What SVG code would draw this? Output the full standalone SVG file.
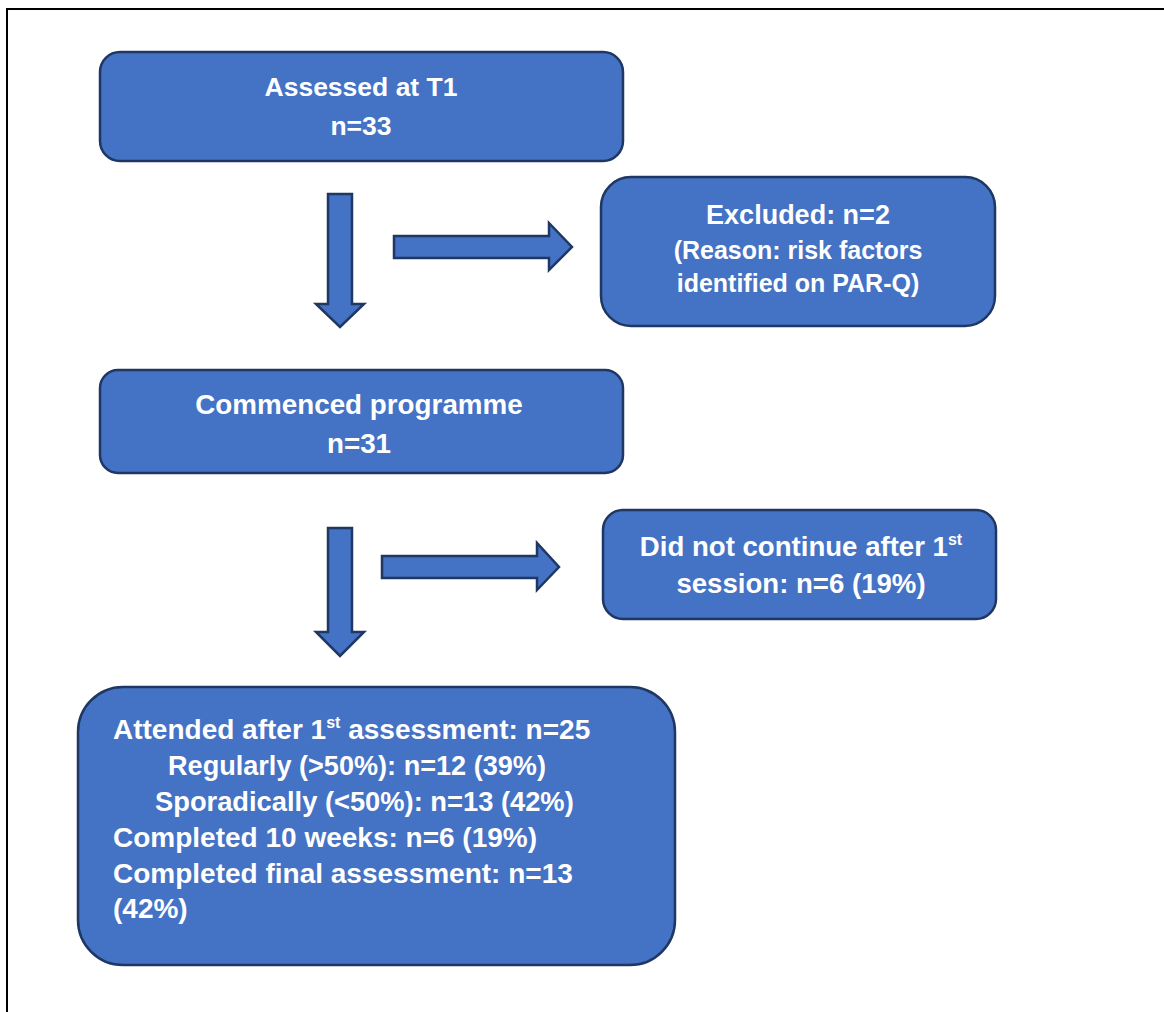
<svg xmlns="http://www.w3.org/2000/svg" width="1164" height="1012" viewBox="0 0 1164 1012">
<style>
.box{fill:#4472c4;stroke:#1f3763;stroke-width:2.5}
.arr{fill:#4472c4;stroke:#1f3763;stroke-width:2.5;stroke-linejoin:miter}
.t{font-family:"Liberation Sans",Arial,sans-serif;font-weight:bold;fill:#ffffff}
.c{text-anchor:middle}
</style>
<rect x="0" y="0" width="1164" height="1012" fill="#ffffff"/>
<path d="M7,1012 V9 H1164" fill="none" stroke="#000000" stroke-width="2"/>
<g id="connectors">
<polygon class="arr" points="328,194 352,194 352,304 364,304 340,327 316,304 328,304"/>
<polygon class="arr" points="394,236 549,236 549,223 572,247 549,270 549,258 394,258"/>
<polygon class="arr" points="328,528 352,528 352,632 364,632 340,656 316,632 328,632"/>
<polygon class="arr" points="382,556 537,556 537,543 559,567 537,590 537,578 382,578"/>
</g>
<g id="assessed">
<rect class="box" x="100" y="52" width="523" height="109" rx="20"/>
<text class="t c" x="361" y="96" font-size="26.5">Assessed at T1</text>
<text class="t c" x="361" y="135" font-size="26.5">n=33</text>
</g>
<g id="excluded">
<rect class="box" x="601" y="177" width="394" height="149" rx="30"/>
<text class="t c" x="798" y="224" font-size="27">Excluded: n=2</text>
<text class="t c" x="798" y="259" font-size="25">(Reason: risk factors</text>
<text class="t c" x="798" y="292" font-size="25">identified on PAR-Q)</text>
</g>
<g id="commenced">
<rect class="box" x="100" y="370" width="523" height="103" rx="18"/>
<text class="t c" x="359" y="414" font-size="27.8">Commenced programme</text>
<text class="t c" x="359" y="453" font-size="27.8">n=31</text>
</g>
<g id="discontinued">
<rect class="box" x="603" y="510" width="393" height="109" rx="20"/>
<text class="t c" x="801" y="556" font-size="27.6">Did not continue after 1<tspan font-size="16" dy="-11">st</tspan></text>
<text class="t c" x="801" y="593" font-size="27.6">session: n=6 (19%)</text>
</g>
<g id="attended">
<rect class="box" x="78" y="687" width="597" height="278" rx="45"/>
<text class="t" x="113" y="739" font-size="28">Attended after 1<tspan font-size="16" dy="-11">st</tspan><tspan dy="11"> assessment: n=25</tspan></text>
<text class="t" x="168" y="775" font-size="27.1">Regularly (&gt;50%): n=12 (39%)</text>
<text class="t" x="155" y="811" font-size="27.3">Sporadically (&lt;50%): n=13 (42%)</text>
<text class="t" x="113" y="847" font-size="28">Completed 10 weeks: n=6 (19%)</text>
<text class="t" x="113" y="883" font-size="28">Completed final assessment: n=13</text>
<text class="t" x="113" y="918" font-size="28">(42%)</text>
</g>
</svg>
